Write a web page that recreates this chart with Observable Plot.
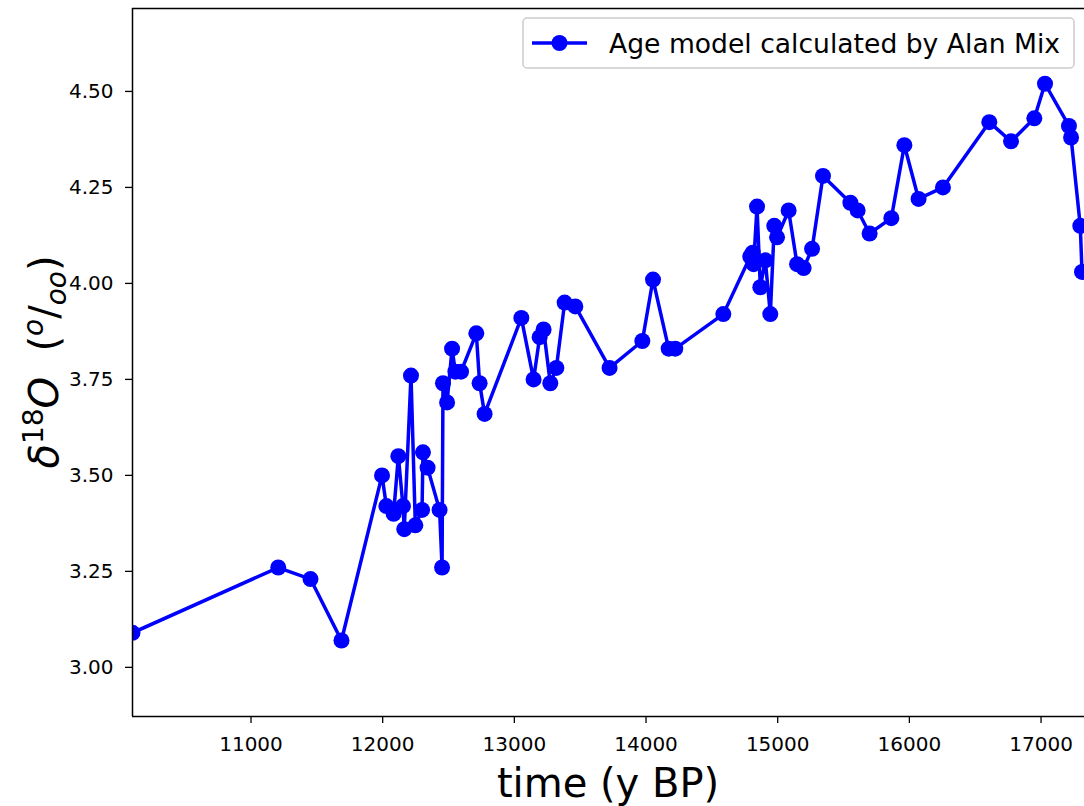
<!DOCTYPE html>
<html>
<head>
<meta charset="utf-8">
<script src="https://cdn.jsdelivr.net/npm/d3@7"></script>
<script src="https://cdn.jsdelivr.net/npm/@observablehq/plot@0.6"></script>
<style>
  html, body { margin: 0; padding: 0; background: #fff; }
  #chart { width: 1084px; height: 806px; }
</style>
</head>
<body>
<div id="chart"></div>
<script>
// Data
const timeBP = [10100, 11207, 11452, 11687, 11995, 12028, 12083, 12119, 12154, 12164,
  12215, 12248, 12299, 12306, 12341, 12432, 12451, 12458, 12489, 12527,
  12552, 12595, 12711, 12736, 12774, 13053, 13146, 13192, 13222, 13273,
  13319, 13382, 13463, 13723, 13972, 14053, 14172, 14222, 14587, 14792,
  14810, 14817, 14843, 14868, 14906, 14944, 14974, 14995, 15083, 15147,
  15197, 15261, 15344, 15552, 15607, 15698, 15863, 15962, 16070, 16255,
  16607, 16772, 16949, 17030, 17212, 17228, 17298, 17311];
const d18O = [3.09, 3.26, 3.23, 3.07, 3.50, 3.42, 3.40, 3.55, 3.42, 3.36,
  3.76, 3.37, 3.41, 3.56, 3.52, 3.41, 3.26, 3.74, 3.69, 3.83,
  3.77, 3.77, 3.87, 3.74, 3.66, 3.91, 3.75, 3.86, 3.88, 3.74,
  3.78, 3.95, 3.94, 3.78, 3.85, 4.01, 3.83, 3.83, 3.92, 4.07,
  4.08, 4.05, 4.20, 3.99, 4.06, 3.92, 4.15, 4.12, 4.19, 4.05,
  4.04, 4.09, 4.28, 4.21, 4.19, 4.13, 4.17, 4.36, 4.22, 4.25,
  4.42, 4.37, 4.43, 4.52, 4.41, 4.38, 4.15, 4.03];
const xTicks = [11000, 12000, 13000, 14000, 15000, 16000, 17000];
const yTicks = [3.00, 3.25, 3.50, 3.75, 4.00, 4.25, 4.50];
const seriesName = "Age model calculated by Alan Mix";
const xLabel = "time (y BP)";

const data = timeBP.map((t, i) => ({time: t, d18O: d18O[i]}));
const xDomain = [10100, 17330];
const yDomain = [2.872, 4.716];
const blue = "#0000ff";

const chart = Plot.plot({
  width: 1084,
  height: 806,
  marginLeft: 132,
  marginRight: 0,
  marginTop: 8,
  marginBottom: 90,
  style: {fontFamily: "DejaVu Sans", fontSize: "20px", color: "#000", background: "#fff"},
  x: {domain: xDomain, label: null},
  y: {domain: yDomain, label: null},
  marks: [
    Plot.line(data, {x: "time", y: "d18O", stroke: blue, strokeWidth: 3.5, clip: true}),
    Plot.dot(data, {x: "time", y: "d18O", r: 8, fill: blue, stroke: null, clip: true}),
    Plot.axisX({ticks: xTicks, tickFormat: d => String(d), tickSize: 7, tickPadding: 13,
      stroke: "#000", strokeWidth: 1.3, fontSize: 20, label: null}),
    Plot.axisY({ticks: yTicks, tickFormat: d => d.toFixed(2), tickSize: 7, tickPadding: 12,
      stroke: "#000", strokeWidth: 1.3, fontSize: 20, label: null}),
    Plot.ruleX([xDomain[0]], {stroke: "#000", strokeWidth: 1.5}),
    Plot.ruleY([yDomain[0], yDomain[1]], {stroke: "#000", strokeWidth: 1.5})
  ]
});

document.getElementById("chart").appendChild(chart);

// Axis titles and legend appended into the SVG as real text
const svg = d3.select(chart);
svg.append("text")
  .attr("x", (132 + 1084) / 2)
  .attr("y", 797)
  .attr("text-anchor", "middle")
  .attr("font-family", "DejaVu Sans")
  .attr("font-size", 40)
  .attr("fill", "#000")
  .text(xLabel);

const yl = svg.append("text")
  .attr("transform", "translate(58,362) rotate(-90)")
  .attr("text-anchor", "middle")
  .attr("font-family", "DejaVu Sans")
  .attr("font-size", 40)
  .attr("fill", "#000");
yl.append("tspan").attr("font-style", "italic").text("δ");
yl.append("tspan").attr("font-size", 28).attr("dy", -15).text("18");
yl.append("tspan").attr("font-style", "italic").attr("dy", 15).text("O");
yl.append("tspan").text("\u00a0\u00a0(");
yl.append("tspan").attr("font-style", "italic").attr("font-size", 28).attr("dy", -15).text("o");
yl.append("tspan").attr("dy", 15).text("/");
yl.append("tspan").attr("font-style", "italic").attr("font-size", 28).attr("dy", 8).text("oo");
yl.append("tspan").attr("dy", -8).text(")");

const lg = svg.append("g");
lg.append("rect")
  .attr("x", 523).attr("y", 18).attr("width", 551).attr("height", 50)
  .attr("rx", 4).attr("fill", "#fff").attr("fill-opacity", 0.8)
  .attr("stroke", "#cccccc").attr("stroke-width", 1.5);
lg.append("line")
  .attr("x1", 532).attr("x2", 587).attr("y1", 43).attr("y2", 43)
  .attr("stroke", blue).attr("stroke-width", 3.5);
lg.append("circle").attr("cx", 559.5).attr("cy", 43).attr("r", 8).attr("fill", blue);
lg.append("text")
  .attr("x", 609).attr("y", 52.5)
  .attr("text-anchor", "start")
  .attr("font-family", "DejaVu Sans").attr("font-size", 26.6).attr("fill", "#000")
  .text(seriesName);
</script>
</body>
</html>
